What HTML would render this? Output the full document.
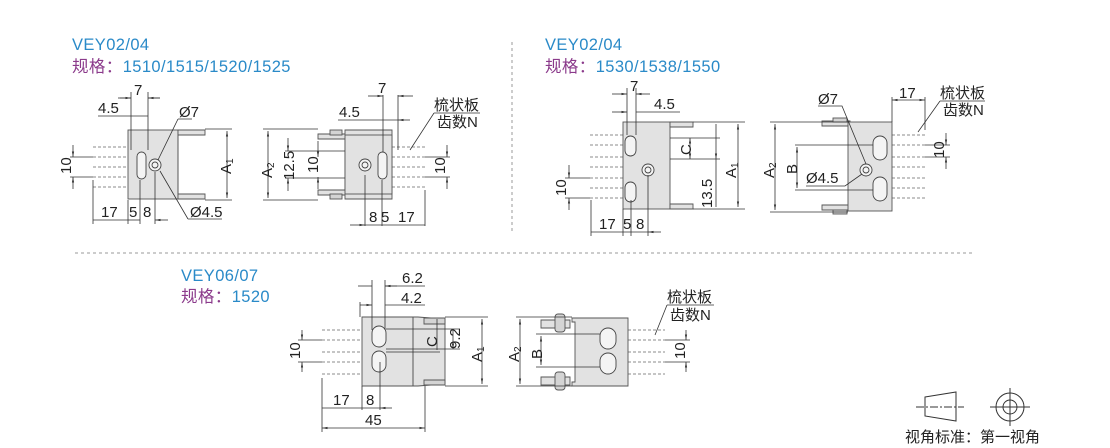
<!DOCTYPE html>
<html><head><meta charset="utf-8"><style>
html,body{margin:0;padding:0;background:#fff;}
svg{display:block;}
text{font-family:"Liberation Sans","Noto Sans CJK SC",sans-serif;fill:#222;}
.t{font-size:15px;}
.b{fill:#2a8ac8;font-size:16.5px;letter-spacing:0.4px;}
.p{fill:#8b3a8b;font-size:16.5px;letter-spacing:0.4px;}
.d{stroke:#333;stroke-width:0.8;fill:none;}
.ds{stroke:#666;stroke-width:0.8;fill:none;stroke-dasharray:3 2;}
.g{fill:#e2e2e2;stroke:#555;stroke-width:0.9;}
.g2{fill:#d4d4d4;stroke:#555;stroke-width:0.9;}
.o{fill:#f4f4f4;stroke:#444;stroke-width:0.9;}
</style></head><body>
<svg width="1110" height="448" viewBox="0 0 1110 448">
<defs>
<marker id="a" viewBox="0 0 10 10" refX="10" refY="5" markerWidth="7" markerHeight="7" orient="auto-start-reverse"><path d="M0,3 L10,5 L0,7z" fill="#333"/></marker>
</defs>

<text x="72" y="50" class="b">VEY02/04</text>
<text x="72" y="72" class="p">规格：<tspan fill="#2a8ac8">1510/1515/1520/1525</tspan></text>
<text x="545" y="50" class="b">VEY02/04</text>
<text x="545" y="72" class="p">规格：<tspan fill="#2a8ac8">1530/1538/1550</tspan></text>
<text x="181" y="281" class="b">VEY06/07</text>
<text x="181" y="302" class="p">规格：<tspan fill="#2a8ac8">1520</tspan></text>

<line x1="512" y1="42" x2="512" y2="232" stroke="#999" stroke-dasharray="3 3"/>
<line x1="75" y1="253" x2="972" y2="253" stroke="#999" stroke-dasharray="3 3"/>

<!-- S1 left -->
<g>
<path class="ds" d="M93,147H128M93,157H128M93,167H128M93,177H128M93,187H128"/>
<rect x="128" y="130" width="50" height="69" class="g"/>
<path class="g" d="M178,130H205V135H178z M178,194H205V199H178z"/>
<line x1="178" y1="135" x2="178" y2="194" stroke="#555"/>
<rect x="137" y="152" width="9" height="27" rx="4.5" class="o"/>
<circle cx="155" cy="165" r="6" class="o"/><circle cx="155" cy="165" r="3" class="o"/>
<path class="d" d="M131,92V150M148,92V150M131,98H120M148,98H160M131,116H98M148,116H131"/>
<line x1="118" y1="98" x2="131" y2="98" class="d" marker-end="url(#a)"/>
<line x1="160" y1="98" x2="148" y2="98" class="d" marker-end="url(#a)"/>
<path class="d" d="M205,129H232M205,200H232"/>
<line x1="227" y1="131" x2="227" y2="198" class="d" marker-start="url(#a)" marker-end="url(#a)"/>
<text class="t" transform="translate(231,174) rotate(-90)">A<tspan font-size="10" dy="2">1</tspan></text>
<path class="d" d="M70,157H93M70,177H93"/>
<line x1="73" y1="145" x2="73" y2="157" class="d" marker-end="url(#a)"/>
<line x1="73" y1="189" x2="73" y2="177" class="d" marker-end="url(#a)"/>
<text class="t" transform="translate(71,174) rotate(-90)">10</text>
<path class="d" d="M93,180V224M128,200V224M140,180V224M155,172V224M93,220H128"/>
<line x1="128" y1="220" x2="140" y2="220" class="d"/>
<line x1="168" y1="220" x2="155" y2="220" class="d" marker-end="url(#a)"/>
<text x="101" y="217" class="t">17</text><text x="129" y="217" class="t">5</text><text x="143" y="217" class="t">8</text>
<text x="179" y="117" class="t">Ø7</text>
<path class="d" d="M178,119H192M178,119L158,160"/>
<text x="190" y="217" class="t">Ø4.5</text>
<path class="d" d="M188,219H222M188,219L160,171"/>
<text x="98" y="113" class="t">4.5</text>
<text x="134" y="95" class="t">7</text>
</g>

<!-- S1 right -->
<g>
<path class="ds" d="M392,147H425M392,157H425M392,167H425M392,177H425M392,187H425"/>
<path class="g" d="M318,134H345V130H392V199H345V195H318V190H345V139H318z"/>
<rect x="330" y="130" width="12" height="5" class="g2"/><rect x="330" y="194" width="12" height="5" class="g2"/>
<rect x="345" y="135" width="47" height="59" class="g"/>
<circle cx="365" cy="165" r="6" class="o"/><circle cx="365" cy="165" r="3" class="o"/>
<rect x="378" y="152" width="9" height="27" rx="4.5" class="o"/>
<path class="d" d="M263,129H318M263,200H318M285,151H345M285,178H345"/>
<line x1="268" y1="131" x2="268" y2="198" class="d" marker-start="url(#a)" marker-end="url(#a)"/>
<text class="t" transform="translate(272,178) rotate(-90)">A<tspan font-size="10" dy="2">2</tspan></text>
<line x1="288" y1="138" x2="288" y2="151" class="d" marker-end="url(#a)"/>
<line x1="288" y1="191" x2="288" y2="178" class="d" marker-end="url(#a)"/>
<text class="t" transform="translate(294,180) rotate(-90)">12.5</text>
<line x1="318" y1="141" x2="318" y2="157" class="d" marker-end="url(#a)"/>
<line x1="318" y1="189" x2="318" y2="177" class="d" marker-end="url(#a)"/>
<text class="t" transform="translate(318,173) rotate(-90)">10</text>
<path class="d" d="M425,157H450M425,177H450"/>
<line x1="447" y1="145" x2="447" y2="157" class="d" marker-end="url(#a)"/>
<line x1="447" y1="189" x2="447" y2="177" class="d" marker-end="url(#a)"/>
<text class="t" transform="translate(445,174) rotate(-90)">10</text>
<path class="d" d="M365,175V226M382,180V226M425,190V226M383,95V152M398,95V150"/>
<line x1="350" y1="225" x2="365" y2="225" class="d" marker-end="url(#a)"/>
<line x1="365" y1="225" x2="425" y2="225" class="d"/>
<text x="369" y="222" class="t">8</text><text x="381" y="222" class="t">5</text><text x="398" y="222" class="t">17</text>
<line x1="368" y1="96" x2="383" y2="96" class="d" marker-end="url(#a)"/>
<line x1="413" y1="96" x2="398" y2="96" class="d" marker-end="url(#a)"/>
<text x="378" y="93" class="t">7</text>
<path class="d" d="M338,120H398"/>
<line x1="410" y1="120" x2="398" y2="120" class="d" marker-end="url(#a)"/>
<text x="339" y="117" class="t">4.5</text>
<text x="434" y="110" class="t">梳状板</text><text x="437" y="127" class="t">齿数N</text>
<path class="d" d="M434,113H480M434,113L410,150"/>
</g>

<!-- S2 left -->
<g>
<path class="ds" d="M590,135H623M590,145H623M590,157H623M590,167H623M590,178H623M590,188H623M590,198H623"/>
<rect x="623" y="122" width="47" height="87" class="g"/>
<path class="g" d="M670,122H693V127H670z M670,204H693V209H670z"/>
<rect x="625" y="136" width="11" height="20" rx="5.5" class="o"/>
<rect x="625" y="182" width="11" height="20" rx="5.5" class="o"/>
<circle cx="648" cy="170" r="6" class="o"/><circle cx="648" cy="170" r="3" class="o"/>
<path class="d" d="M627,88V135M636,88V135M670,138H720M670,159H720M693,122H745M693,209H745"/>
<line x1="612" y1="94" x2="627" y2="94" class="d" marker-end="url(#a)"/>
<line x1="650" y1="94" x2="636" y2="94" class="d" marker-end="url(#a)"/>
<text x="630" y="91" class="t">7</text>
<line x1="612" y1="112" x2="627" y2="112" class="d" marker-end="url(#a)"/>
<path class="d" d="M636,112H680"/>
<text x="654" y="109" class="t">4.5</text>
<line x1="690" y1="138" x2="690" y2="159" class="d" marker-start="url(#a)" marker-end="url(#a)"/>
<text class="t" transform="translate(691,155) rotate(-90)">C</text>
<line x1="716" y1="124" x2="716" y2="159" class="d" marker-end="url(#a)"/>
<line x1="716" y1="159" x2="716" y2="207" class="d"/>
<text class="t" transform="translate(712,208) rotate(-90)">13.5</text>
<line x1="738" y1="124" x2="738" y2="207" class="d" marker-start="url(#a)" marker-end="url(#a)"/>
<text class="t" transform="translate(736,178) rotate(-90)">A<tspan font-size="10" dy="2">1</tspan></text>
<path class="d" d="M565,178H590M565,198H590"/>
<line x1="569" y1="165" x2="569" y2="178" class="d" marker-end="url(#a)"/>
<line x1="569" y1="210" x2="569" y2="198" class="d" marker-end="url(#a)"/>
<text class="t" transform="translate(566,196) rotate(-90)">10</text>
<path class="d" d="M591,200V236M623,209V236M631,200V236M648,175V236M591,232H623"/>
<line x1="661" y1="232" x2="648" y2="232" class="d" marker-end="url(#a)"/>
<line x1="623" y1="232" x2="648" y2="232" class="d"/>
<text x="599" y="229" class="t">17</text><text x="623" y="229" class="t">5</text><text x="636" y="229" class="t">8</text>
</g>

<!-- S2 right -->
<g>
<path class="ds" d="M892,135H925M892,145H925M892,157H925M892,167H925M892,178H925M892,188H925M892,198H925"/>
<path class="g" d="M822,121H850V126H822z M822,205H850V210H822z"/>
<rect x="833" y="118" width="14" height="4" class="g2"/><rect x="833" y="210" width="14" height="4" class="g2"/>
<rect x="848" y="122" width="44" height="89" class="g"/>
<rect x="873" y="136" width="14" height="24" rx="7" class="o"/>
<rect x="873" y="177" width="14" height="24" rx="7" class="o"/>
<circle cx="866" cy="170" r="6" class="o"/><circle cx="866" cy="170" r="3" class="o"/>
<path class="d" d="M770,122H848M770,212H848M795,145H873M795,190H873"/>
<line x1="775" y1="124" x2="775" y2="210" class="d" marker-start="url(#a)" marker-end="url(#a)"/>
<text class="t" transform="translate(774,178) rotate(-90)">A<tspan font-size="10" dy="2">2</tspan></text>
<line x1="797" y1="147" x2="797" y2="188" class="d" marker-start="url(#a)" marker-end="url(#a)"/>
<text class="t" transform="translate(797,174) rotate(-90)">B</text>
<text x="818" y="104" class="t">Ø7</text>
<path class="d" d="M818,106H842L866,164"/>
<text x="806" y="183" class="t">Ø4.5</text>
<path class="d" d="M806,186H845L862,174"/>
<path class="d" d="M892,97V122M925,97V130"/>
<line x1="892" y1="100" x2="925" y2="100" class="d" marker-start="url(#a)" marker-end="url(#a)"/>
<text x="899" y="98" class="t">17</text>
<text x="940" y="98" class="t">梳状板</text><text x="943" y="115" class="t">齿数N</text>
<path class="d" d="M940,101H985M940,101L918,132"/>
<path class="d" d="M925,145H950M925,157H950"/>
<line x1="946" y1="133" x2="946" y2="145" class="d" marker-end="url(#a)"/>
<line x1="946" y1="169" x2="946" y2="157" class="d" marker-end="url(#a)"/>
<text class="t" transform="translate(944,158) rotate(-90)">10</text>
</g>

<!-- S3 left -->
<g>
<path class="ds" d="M322,330H362M322,340H362M322,352H362M322,362H362M322,374H362"/>
<path class="g" d="M362,317H418L445,319V384L418,386H362z"/>
<path class="g2" d="M424,318H445V324H424z M424,380H445V385H424z"/>
<line x1="413" y1="317" x2="413" y2="386" stroke="#555"/>
<rect x="372" y="326" width="14" height="21" rx="7" class="o"/>
<rect x="372" y="351" width="14" height="21" rx="7" class="o"/>
<path class="d" d="M372,280V330M385,280V330M360,302V317"/>
<line x1="358" y1="286" x2="372" y2="286" class="d"/>
<line x1="397" y1="286" x2="385" y2="286" class="d" marker-end="url(#a)"/>
<path class="d" d="M385,286H425"/>
<text x="402" y="283" class="t">6.2</text>
<line x1="360" y1="305" x2="372" y2="305" class="d" marker-end="url(#a)"/>
<path class="d" d="M385,305H425"/>
<text x="401" y="303" class="t">4.2</text>
<path class="d" d="M386,329H460M386,349H460M386,352H440M445,317H488M445,386H488"/>
<line x1="437" y1="319" x2="437" y2="350" class="d"/>
<text class="t" transform="translate(437,347) rotate(-90)">C</text>
<line x1="453" y1="329" x2="453" y2="349" class="d" marker-end="url(#a)"/>
<text class="t" transform="translate(460,349) rotate(-90)">9.2</text>
<line x1="482" y1="319" x2="482" y2="384" class="d" marker-start="url(#a)" marker-end="url(#a)"/>
<text class="t" transform="translate(482,362) rotate(-90)">A<tspan font-size="10" dy="2">1</tspan></text>
<path class="d" d="M298,340H322M298,362H322"/>
<line x1="302" y1="330" x2="302" y2="340" class="d" marker-end="url(#a)"/>
<line x1="302" y1="372" x2="302" y2="362" class="d" marker-end="url(#a)"/>
<text class="t" transform="translate(300,359) rotate(-90)">10</text>
<path class="d" d="M322,378V432M362,386V410M380,362V410M425,386V432M322,408H362"/>
<line x1="362" y1="408" x2="380" y2="408" class="d"/>
<line x1="392" y1="408" x2="380" y2="408" class="d" marker-end="url(#a)"/>
<text x="333" y="405" class="t">17</text><text x="366" y="405" class="t">8</text>
<line x1="322" y1="428" x2="425" y2="428" class="d" marker-start="url(#a)" marker-end="url(#a)"/>
<text x="365" y="425" class="t">45</text>
</g>

<!-- S3 right -->
<g>
<path class="ds" d="M628,330H665M628,340H665M628,352H665M628,362H665M628,374H665"/>
<path class="g" d="M541,320H570V328H541z M541,377H570V385H541z"/>
<rect x="555" y="314" width="10" height="18" rx="3" class="g2"/><rect x="555" y="372" width="10" height="18" rx="3" class="g2"/>
<path class="g" d="M572,318H628V386H572V382H575V322H572z"/>
<rect x="600" y="328" width="16" height="21" rx="8" class="o"/>
<rect x="600" y="353" width="16" height="21" rx="8" class="o"/>
<path class="d" d="M516,317H572M516,386H572M536,334H600M536,367H600"/>
<line x1="520" y1="319" x2="520" y2="384" class="d" marker-start="url(#a)" marker-end="url(#a)"/>
<text class="t" transform="translate(519,362) rotate(-90)">A<tspan font-size="10" dy="2">2</tspan></text>
<line x1="541" y1="336" x2="541" y2="365" class="d" marker-start="url(#a)" marker-end="url(#a)"/>
<text class="t" transform="translate(542,359) rotate(-90)">B</text>
<text x="667" y="302" class="t">梳状板</text><text x="670" y="320" class="t">齿数N</text>
<path class="d" d="M667,305H714M667,305L655,335"/>
<path class="d" d="M665,340H690M665,362H690"/>
<line x1="686" y1="330" x2="686" y2="340" class="d" marker-end="url(#a)"/>
<line x1="686" y1="372" x2="686" y2="362" class="d" marker-end="url(#a)"/>
<text class="t" transform="translate(685,359) rotate(-90)">10</text>
</g>

<g stroke="#333" stroke-width="1" fill="none">
<path d="M925,397L956,392V421L925,416z"/>
<path d="M916,407H964" stroke-dasharray="8 2 2 2"/>
<circle cx="1010" cy="407" r="14"/><circle cx="1010" cy="407" r="7"/>
<path d="M990,407H1030M1010,388V426"/>
</g>
<text x="905" y="442" class="t">视角标准：第一视角</text>
</svg>
</body></html>
